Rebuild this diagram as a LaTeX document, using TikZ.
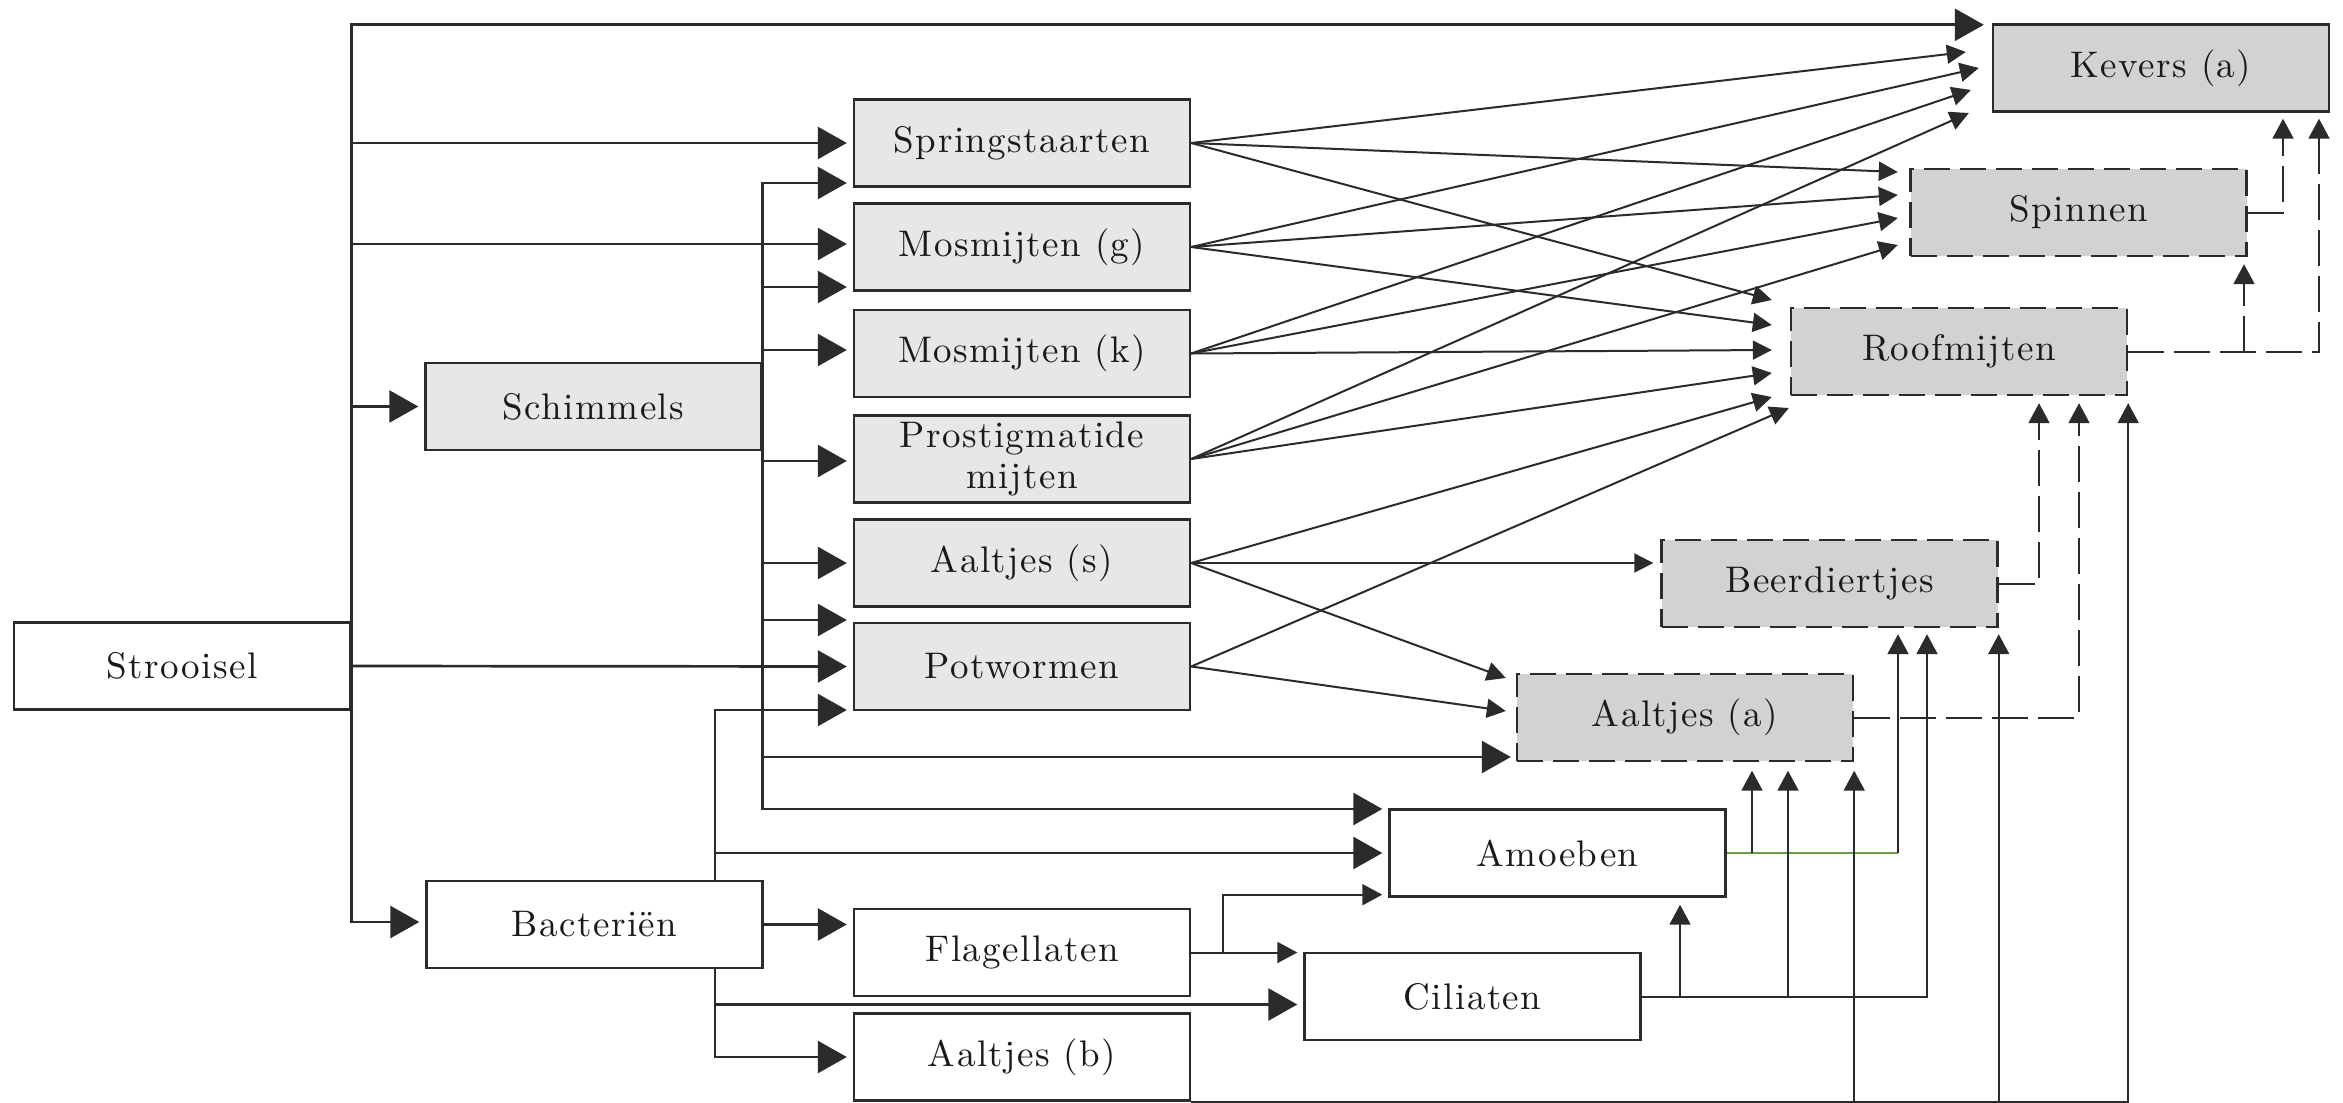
\documentclass[tikz,border=0pt]{standalone}
\usepackage{fontspec}
\newfontfamily\lbl{lmroman10-regular}[Extension=.otf,LetterSpace=4]
\usetikzlibrary{arrows.meta,calc}
\definecolor{lightbox}{HTML}{E6E7E6}
\definecolor{darkbox}{HTML}{D1D2D4}
\definecolor{edge}{HTML}{2B2B2B}
\definecolor{ink}{HTML}{1A1A1A}
\definecolor{greenline}{HTML}{6A9E3F}
\begin{document}
\begin{tikzpicture}[x=0.5pt,y=-0.5pt,
 box/.style={draw=edge, line width=1.2pt, minimum width=168pt, minimum height=43.5pt, inner sep=0pt, align=center, font=\lbl\fontsize{18.5}{20.5}\selectfont, text=ink},
 whitebox/.style={box, fill=white},
 lightgray/.style={box, fill=lightbox},
 pred/.style={box, fill=darkbox, dash pattern=on 13pt off 5pt},
 feed/.style={draw=edge, line width=1.35pt, -{Triangle[length=14.5pt,width=16pt]}},
 link/.style={draw=edge, line width=1pt, -{Triangle[length=9.5pt,width=9.5pt]}},
 uplink/.style={draw=edge, line width=1pt, -{Triangle[length=10pt,width=10.5pt]}},
 dlink/.style={uplink, dash pattern=on 18pt off 5pt},
]
\useasboundingbox (0,0) rectangle (2343,1102);

% nodes
\node[whitebox] (strooisel) at (182,666) {Strooisel};
\node[lightgray] (schimmels) at (593.5,406.5) {Schimmels};
\node[whitebox] (bacterien) at (594.5,924.5) {Bacteriën};
\node[lightgray] (spring) at (1022,143) {Springstaarten};
\node[lightgray] (mosg) at (1022,247) {Mosmijten (g)};
\node[lightgray] (mosk) at (1022,353.5) {Mosmijten (k)};
\node[lightgray] (prost) at (1022,459) {Prostigmatide\\mijten};
\node[lightgray] (aals) at (1022,563) {Aaltjes (s)};
\node[lightgray] (potw) at (1022,666.5) {Potwormen};
\node[whitebox] (flag) at (1022,952.5) {Flagellaten};
\node[whitebox] (aalb) at (1022,1057) {Aaltjes (b)};
\node[box, fill=darkbox] (kevers) at (2161,68) {Kevers (a)};
\node[pred] (spinnen) at (2078.5,212.5) {Spinnen};
\node[pred] (roof) at (1959,351.5) {Roofmijten};
\node[pred] (beer) at (1829.5,583.5) {Beerdiertjes};
\node[pred] (aala) at (1685,717.5) {Aaltjes (a)};
\node[whitebox] (amoeben) at (1557.5,853) {Amoeben};
\node[whitebox] (ciliaten) at (1472.5,996.5) {Ciliaten};

% Strooisel
\draw[feed] (strooisel.east) |- ($(kevers.north west)+(-8,1.5)$);
\draw[feed] (strooisel.east) |- ($(spring.west)+(-6,0)$);
\draw[feed] (strooisel.east) |- ($(mosg.west)+(-6,-3)$);
\draw[feed] (strooisel.east) |- ($(schimmels.west)+(-6,0)$);
\draw[feed] (strooisel.east) -- ($(potw.west)+(-6,0)$);
\draw[feed] (strooisel.east) |- ($(bacterien.west)+(-6,-2.5)$);

% Schimmels
\draw[feed] (schimmels.east) |- ($(spring.west)+(-6,40)$);
\draw[feed] (schimmels.east) |- ($(mosg.west)+(-6,40)$);
\draw[feed] (schimmels.east) |- ($(mosk.west)+(-6,-3.5)$);
\draw[feed] (schimmels.east) |- ($(prost.west)+(-6,2)$);
\draw[feed] (schimmels.east) |- ($(aals.west)+(-6,0)$);
\draw[feed] (schimmels.east) |- ($(potw.west)+(-6,-46.5)$);
\draw[feed] (schimmels.east) |- ($(aala.west)+(-5,39.5)$);
\draw[feed] (schimmels.east) |- ($(amoeben.west)+(-6,-44)$);

% Bacterien
\coordinate (bU) at ($(bacterien.north)+(120.5,0)$);
\coordinate (bD) at ($(bacterien.south)+(120.5,0)$);
\draw[feed] (bU) |- ($(potw.west)+(-6,43.5)$);
\draw[feed] (bU) |- ($(amoeben.west)+(-6,0)$);
\draw[feed] (bacterien.east) -- ($(bacterien.east -| flag.west)+(-6,0)$);
\draw[feed] (bD) |- ($(ciliaten.west)+(-6,8)$);
\draw[feed] (bD) |- ($(aalb.west)+(-6,0)$);

% Flagellaten
\draw[uplink] (flag.east) -- ($(flag.east -| ciliaten.west)+(-6,0)$);
\coordinate (fj) at ($(flag.east)+(32,0)$);
\draw[uplink] (fj) |- ($(amoeben.south west)+(-6,-3)$);

% Amoeben
\coordinate (amB) at ($(beer.south)+(68.5,6)$);
\coordinate (amA) at ($(aala.south)+(67,8.5)$);
\draw[draw=greenline, line width=0.8pt] (amoeben.east) -- (amoeben.east -| amB);
\draw[uplink] (amoeben.east -| amB) -- (amB);
\draw[uplink] (amoeben.east -| amA) -- (amA);

% Ciliaten
\coordinate (ciAm) at ($(amoeben.south)+(122.5,7)$);
\coordinate (ciAa) at ($(aala.south)+(103,8.5)$);
\draw[uplink] (ciliaten.east) -| ($(beer.south)+(97.5,6)$);
\draw[uplink] (ciliaten.east -| ciAm) -- (ciAm);
\draw[uplink] (ciliaten.east -| ciAa) -- (ciAa);

% Aaltjes (b)
\draw[uplink] (aalb.south east) -| ($(roof.south east)+(0,7)$);
\draw[uplink] (aalb.south east -| aala.south east) -- ($(aala.south east)+(0,8.5)$);
\draw[uplink] (aalb.south east -| beer.south east) -- ($(beer.south east)+(0,6)$);

% dashed outputs
\draw[dlink] (aala.east) -| ($(roof.south)+(120,7)$);
\draw[dlink] (beer.east) -| ($(roof.south)+(80,7)$);
\draw[dlink] (roof.east) -| ($(kevers.south)+(158,6)$);
\coordinate (rsp) at ($(spinnen.south)+(165.5,7)$);
\draw[dlink] (roof.east -| rsp) -- (rsp);
\draw[dlink] (spinnen.east) -| ($(kevers.south)+(122,6)$);

% criss-cross links
\draw[link] (spring.east) -- ($(kevers.west)+(-26,-16)$);
\draw[link] (spring.east) -- ($(spinnen.west)+(-11.5,-40.5)$);
\draw[link] (spring.east) -- ($(roof.west)+(-18,-51.5)$);
\draw[link] (mosg.east) -- ($(kevers.west)+(-13,0)$);
\draw[link] (mosg.east) -- ($(spinnen.west)+(-11.5,-17.5)$);
\draw[link] (mosg.east) -- ($(roof.west)+(-18,-26.5)$);
\draw[link] (mosk.east) -- ($(kevers.west)+(-21,22)$);
\draw[link] (mosk.east) -- ($(spinnen.west)+(-11.5,5.5)$);
\draw[link] (mosk.east) -- ($(roof.west)+(-18,-1.5)$);
\draw[link] (prost.east) -- ($(kevers.west)+(-23,45)$);
\draw[link] (prost.east) -- ($(spinnen.west)+(-11.5,32.5)$);
\draw[link] (prost.east) -- ($(roof.west)+(-18,21.5)$);
\draw[link] (aals.east) -- ($(roof.west)+(-18,45.5)$);
\draw[link] (aals.east) -- ($(aals.east -| beer.west)+(-7,0)$);
\draw[link] (aals.east) -- ($(aala.west)+(-10,-39.5)$);
\draw[link] (potw.east) -- ($(roof.west)+(-1,56.5)$);
\draw[link] (potw.east) -- ($(aala.west)+(-10,-6.5)$);
\end{tikzpicture}
\end{document}
